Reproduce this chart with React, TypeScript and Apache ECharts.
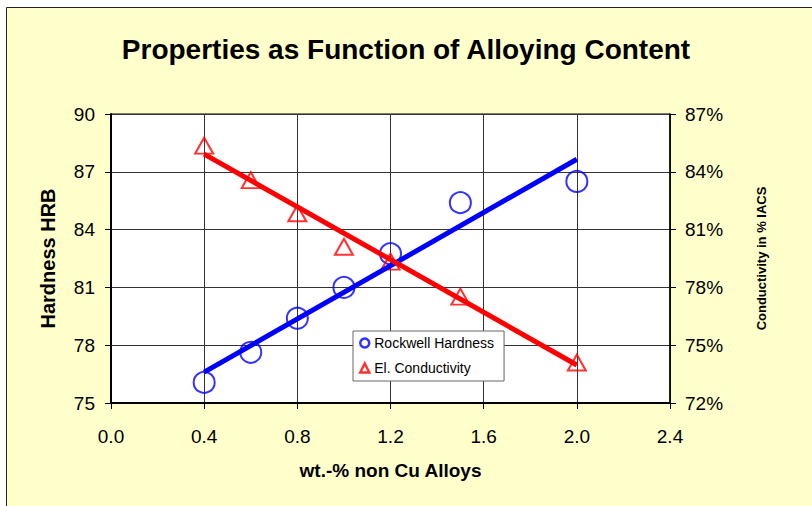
import React, { useEffect, useRef } from "react";
import * as echarts from "echarts";

const alloyContent = [0.4, 0.6, 0.8, 1.0, 1.2, 1.5, 2.0];
const rockwellHardness = [76.07, 77.63, 79.4, 81.0, 82.75, 85.4, 86.5];
const conductivity = [85.36, 83.57, 81.85, 80.11, 79.34, 77.52, 74.1];
const trendX = [0.4, 2.0];
const hardnessTrend = [76.6, 87.65];
const conductivityTrend = [84.92, 73.97];

const FONT = "'Liberation Sans', Arial, sans-serif";

export default function App() {
  const ref = useRef<HTMLDivElement>(null);
  useEffect(() => {
    if (!ref.current) return;
    const chart = echarts.init(ref.current, undefined, { renderer: "svg" });
    const pair = (xs: number[], ys: number[]) => xs.map((x, i) => [x, ys[i]]);
    chart.setOption({
      animation: false,
      backgroundColor: "#ffffff",
      textStyle: { fontFamily: FONT, color: "#000" },
      graphic: [
        {
          type: "rect",
          z: -10,
          silent: true,
          shape: { x: 6.5, y: 7.5, width: 900, height: 600 },
          style: { fill: "#FFFFCC", stroke: "#222", lineWidth: 1 },
        },
      ],
      title: {
        text: "Properties as Function of Alloying Content",
        left: "center",
        top: 35,
        padding: 0,
        textStyle: { fontFamily: FONT, fontSize: 28, fontWeight: "bold", color: "#000" },
      },
      legend: {
        orient: "vertical",
        left: 353,
        top: 331,
        padding: [4, 10, 5, 6],
        backgroundColor: "#ffffff",
        borderColor: "#666",
        borderWidth: 1,
        itemWidth: 9,
        itemHeight: 9,
        itemGap: 9,
        textStyle: { fontFamily: FONT, fontSize: 14, color: "#000", lineHeight: 16 },
        data: [
          {
            name: "Rockwell Hardness",
            icon: "circle",
            itemStyle: { color: "transparent", borderColor: "#0000FF", borderWidth: 2.5 },
          },
          {
            name: "El. Conductivity",
            icon: "triangle",
            itemStyle: { color: "transparent", borderColor: "#FF0000", borderWidth: 2.5 },
          },
        ],
      },
      grid: {
        left: 111,
        top: 114,
        width: 559,
        height: 289,
        show: true,
        backgroundColor: "#ffffff",
        borderColor: "#000",
        borderWidth: 1,
        containLabel: false,
      },
      xAxis: {
        type: "value",
        min: 0,
        max: 2.4,
        interval: 0.4,
        name: "wt.-% non Cu Alloys",
        nameLocation: "middle",
        nameGap: 58,
        nameTextStyle: { fontFamily: FONT, fontSize: 19, fontWeight: "bold", color: "#000" },
        axisLine: { show: true, lineStyle: { color: "#000", width: 2 } },
        axisTick: { show: true, inside: false, length: 6, lineStyle: { color: "#000" } },
        axisLabel: {
          margin: 24,
          fontSize: 19,
          fontFamily: FONT,
          color: "#000",
          formatter: (v: number) => v.toFixed(1),
        },
        splitLine: { show: true, lineStyle: { color: "#333", width: 1 } },
      },
      yAxis: [
        {
          type: "value",
          min: 75,
          max: 90,
          interval: 3,
          position: "left",
          name: "Hardness HRB",
          nameLocation: "middle",
          nameRotate: 90,
          nameGap: 53,
          nameTextStyle: { fontFamily: FONT, fontSize: 20, fontWeight: "bold", color: "#000" },
          axisLine: { show: true, lineStyle: { color: "#000", width: 2 } },
          axisTick: { show: true, inside: false, length: 6, lineStyle: { color: "#000" } },
          axisLabel: { margin: 16, fontSize: 19, fontFamily: FONT, color: "#000" },
          splitLine: { show: true, lineStyle: { color: "#333", width: 1 } },
        },
        {
          type: "value",
          min: 72,
          max: 87,
          interval: 3,
          position: "right",
          name: "Conductivity in % IACS",
          nameLocation: "middle",
          nameRotate: 90,
          nameGap: 85,
          nameTextStyle: { fontFamily: FONT, fontSize: 13, fontWeight: "bold", color: "#000" },
          axisLine: { show: true, lineStyle: { color: "#000", width: 1.5 } },
          axisTick: { show: true, inside: false, length: 6, lineStyle: { color: "#000" } },
          axisLabel: {
            margin: 15,
            fontSize: 19,
            fontFamily: FONT,
            color: "#000",
            formatter: "{value}%",
          },
          splitLine: { show: false },
        },
      ],
      series: [
        {
          name: "Rockwell Hardness",
          type: "scatter",
          yAxisIndex: 0,
          symbol: "circle",
          symbolSize: 21,
          itemStyle: { color: "transparent", borderColor: "#0000FF", borderWidth: 2 },
          data: pair(alloyContent, rockwellHardness),
          z: 3,
        },
        {
          name: "El. Conductivity",
          type: "scatter",
          yAxisIndex: 1,
          symbol: "triangle",
          symbolSize: [18, 16],
          itemStyle: { color: "transparent", borderColor: "#FF0000", borderWidth: 2 },
          data: pair(alloyContent, conductivity),
          z: 3,
        },
        {
          name: "Hardness Trend",
          type: "line",
          yAxisIndex: 0,
          symbol: "none",
          lineStyle: { color: "#0000FF", width: 5 },
          itemStyle: { color: "#0000FF" },
          data: pair(trendX, hardnessTrend),
          z: 4,
        },
        {
          name: "Conductivity Trend",
          type: "line",
          yAxisIndex: 1,
          symbol: "none",
          lineStyle: { color: "#FF0000", width: 5 },
          itemStyle: { color: "#FF0000" },
          data: pair(trendX, conductivityTrend),
          z: 4,
        },
      ],
    });
    return () => chart.dispose();
  }, []);
  return (
    <div
      ref={ref}
      style={{ position: "absolute", left: 0, top: 0, width: 812, height: 506 }}
    />
  );
}
